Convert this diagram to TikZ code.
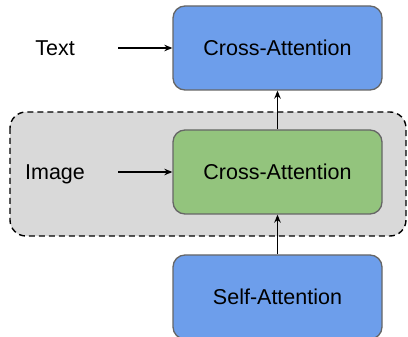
\documentclass[tikz,border=0pt]{standalone}
\usepackage{fontspec}
\setmainfont{Liberation Sans}
\usetikzlibrary{arrows.meta}
\definecolor{boxblue}{HTML}{6D9EEB}
\definecolor{boxgreen}{HTML}{93C47D}
\definecolor{groupgray}{HTML}{D9D9D9}
\definecolor{edgegray}{HTML}{666666}
\tikzset{
  block/.style={draw=edgegray, line width=1.3pt, rounded corners=12pt,
    minimum width=209pt, minimum height=84pt, inner sep=0pt,
    font=\fontsize{21.5}{25}\selectfont},
  lbl/.style={font=\fontsize{21.5}{25}\selectfont, inner sep=0pt},
  conn/.style={-{Stealth[length=8pt,width=6.5pt]}, line width=1.5pt},
  group/.style={draw=black, fill=groupgray, dashed, dash pattern=on 6pt off 4pt,
    line width=1.4pt, rounded corners=16pt}
}
\begin{document}
\begin{tikzpicture}[x=1pt,y=-1pt]
\useasboundingbox (0,0) rectangle (408,337);
\draw[group] (10,112) rectangle (406,236);
\node[block, fill=boxblue] (top) at (277.5,48) {Cross-Attention};
\node[block, fill=boxgreen] (mid) at (277.5,172) {Cross-Attention};
\node[block, fill=boxblue] (bot) at (277.5,297) {Self-Attention};
\node[lbl, anchor=base] (text) at (55,55.5) {Text};
\node[lbl, anchor=base] (image) at (55,179.5) {Image};
\coordinate (ts) at (118,48);
\coordinate (is) at (118,172);
\draw[conn] (ts) -- (top.west);
\draw[conn] (is) -- (mid.west);
\draw[conn] (mid.north) -- (top.south);
\draw[conn] (bot.north) -- (mid.south);
\end{tikzpicture}
\end{document}
